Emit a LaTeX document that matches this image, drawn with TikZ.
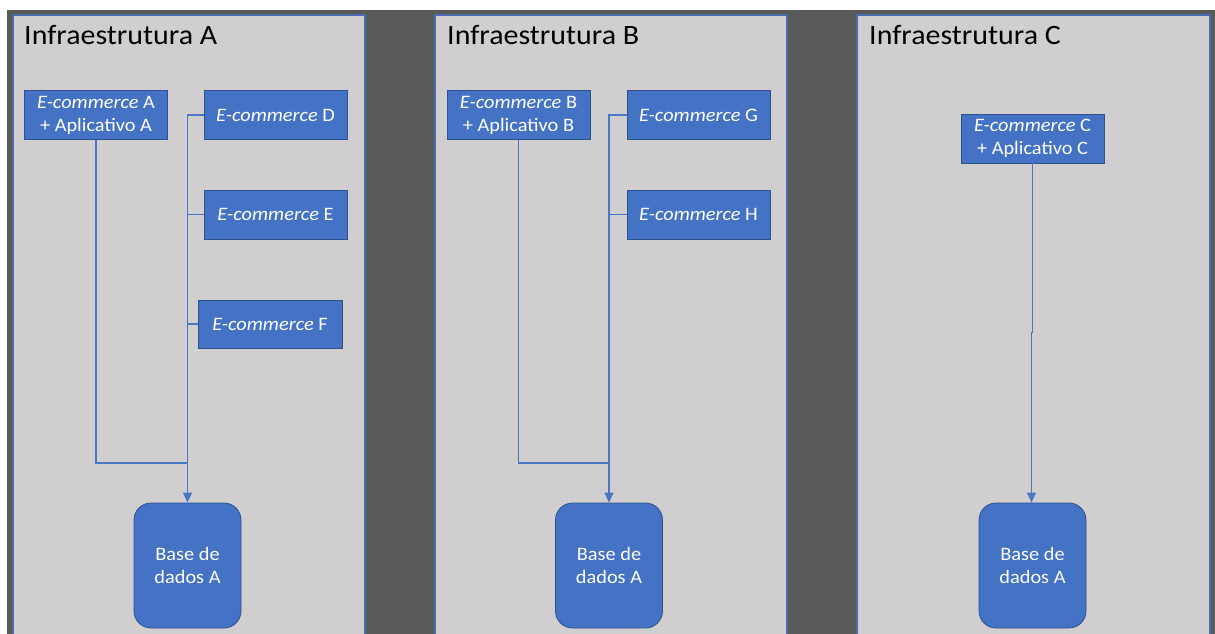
\documentclass[tikz,border=0pt]{standalone}
\usepackage{fontspec}
\setmainfont{Carlito}[FakeStretch=1.07]
\usetikzlibrary{arrows.meta}
\definecolor{pagebg}{HTML}{595959}
\definecolor{panelfill}{HTML}{D0CECE}
\definecolor{panelline}{HTML}{4A6DB0}
\definecolor{boxfill}{HTML}{4472C4}
\definecolor{boxline}{HTML}{2F528F}
\definecolor{wire}{HTML}{4A76C6}
\tikzset{
  panelbg/.style={fill=panelfill},
  panelrim/.style={draw=panelline, line width=1.5pt},
  paneltitle/.style={anchor=base west, inner sep=0pt, font=\fontsize{28}{32}\selectfont, text=black},
  appbox/.style={draw=boxline, fill=boxfill, line width=0.8pt, text=white, inner sep=0pt,
    align=center, font=\fontsize{19}{23}\selectfont, minimum width=143pt, minimum height=49pt},
  dbbox/.style={draw=boxline, fill=boxfill, line width=0.8pt, text=white, inner sep=0pt,
    align=center, font=\fontsize{19}{23}\selectfont, minimum width=107pt, minimum height=125pt,
    rounded corners=17pt},
  link/.style={draw=wire, line width=1.2pt},
  arrowlink/.style={link, -{Triangle[width=9pt,length=10pt]}},
}
\newcommand{\ecom}{\textit{E-commerce}}
\begin{document}
\begin{tikzpicture}[x=1pt, y=-1pt]
\useasboundingbox (0,0) rectangle (1215,634);
\fill[white] (0,0) rectangle (1215,634);
\fill[pagebg] (7,10) rectangle (1215,634);

% three infrastructure panels, open at the bottom
\foreach \l/\r in {13/365, 435/787, 857/1210}{
  \fill[panelbg] (\l,15) rectangle (\r,634);
  \draw[panelrim] (\l,636) -- (\l,15) -- (\r,15) -- (\r,636);
}

\node[paneltitle] (tA) at (24,45) {Infraestrutura A};
\node[paneltitle] (tB) at (447,45) {Infraestrutura B};
\node[paneltitle] (tC) at (869,45) {Infraestrutura C};

% Infraestrutura A
\node[appbox] (eA) at (96,115) {\ecom{} A\\+ Aplicativo A};
\node[appbox] (eD) at (275.5,115) {\ecom{} D};
\node[appbox] (eE) at (275.5,214.5) {\ecom{} E};
\node[appbox, minimum width=144pt, minimum height=48pt] (eF) at (270,324) {\ecom{} F};
\node[dbbox] (dbA) at (187.5,565.5) {Base de\\dados A};
\coordinate (jA) at (187.5,463);
\draw[arrowlink] (eD.west) -| (dbA.north);
\draw[link] (eE.west) -- (eE.west -| dbA.north);
\draw[link] (eF.west) -- (eF.west -| dbA.north);
\draw[link] (eA.south) |- (jA);

% Infraestrutura B
\node[appbox] (eB) at (518.5,115) {\ecom{} B\\+ Aplicativo B};
\node[appbox] (eG) at (698.5,115) {\ecom{} G};
\node[appbox] (eH) at (698.5,214.5) {\ecom{} H};
\node[dbbox] (dbB) at (609,565.5) {Base de\\dados A};
\coordinate (jB) at (609,463);
\draw[arrowlink] (eG.west) -| (dbB.north);
\draw[link] (eH.west) -- (eH.west -| dbB.north);
\draw[link] (eB.south) |- (jB);

% Infraestrutura C
\node[appbox] (eC) at (1032.5,138.5) {\ecom{} C\\+ Aplicativo C};
\node[dbbox] (dbC) at (1032.5,565.5) {Base de\\dados A};
\coordinate (kC) at (1031.5,332);
\draw[link] (eC.south) |- (kC);
\draw[arrowlink] (kC) -- (kC |- dbC.north);
\end{tikzpicture}
\end{document}
